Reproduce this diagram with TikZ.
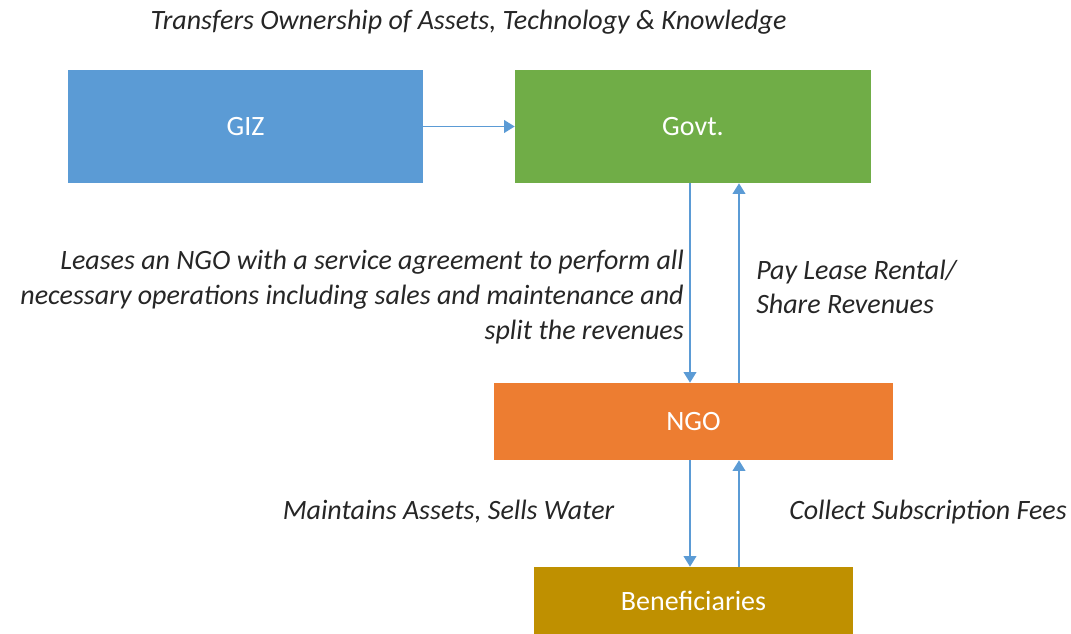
\documentclass[tikz,border=0pt]{standalone}
\usepackage{fontspec}
\setmainfont{Carlito}
\usetikzlibrary{arrows.meta}
\definecolor{cblue}{HTML}{5B9BD5}
\definecolor{cgreen}{HTML}{70AD47}
\definecolor{corange}{HTML}{ED7D31}
\definecolor{cgold}{HTML}{BF9000}
\definecolor{carrow}{HTML}{5B9BD5}
\begin{document}
\begin{tikzpicture}[x=0.75pt,y=-0.75pt,
  box/.style={draw=none,fill=#1,text=white,inner sep=0pt,font=\fontsize{21}{24}\selectfont},
  lbl/.style={font=\fontsize{21}{26}\selectfont\itshape,inner sep=0pt,text=black!85},
  conn/.style={draw=carrow,line width=1.4pt,-{Triangle[length=8pt,width=9.5pt]}}]
\useasboundingbox (0,0) rectangle (1071,634);
\node[box=cblue,minimum width=355*0.75pt,minimum height=113*0.75pt] (giz) at (245.5,126.5) {GIZ};
\node[box=cgreen,minimum width=356*0.75pt,minimum height=113*0.75pt] (govt) at (693,126.5) {Govt.};
\node[box=corange,minimum width=399*0.75pt,minimum height=77*0.75pt] (ngo) at (693.5,421.5) {NGO};
\node[box=cgold,minimum width=319*0.75pt,minimum height=67*0.75pt] (ben) at (693.5,600.5) {Beneficiaries};
\draw[conn] (giz.east) -- (govt.west);
\draw[conn] (govt.south -| 690,0) -- (ngo.north -| 690,0);
\draw[conn] (ngo.north -| 739,0) -- (govt.south -| 739,0);
\draw[conn] (ngo.south -| 690,0) -- (ben.north -| 690,0);
\draw[conn] (ben.north -| 739,0) -- (ngo.south -| 739,0);
\node[lbl] (t1) at (468.5,22) {Transfers Ownership of Assets, Technology \& Knowledge};
\node[lbl,anchor=east,align=right] (t2) at (684,297) {Leases an NGO with a service agreement to perform all\\necessary operations including sales and maintenance and\\split the revenues};
\node[lbl,anchor=west,align=left] (t3) at (756,287) {Pay Lease Rental/\\Share Revenues};
\node[lbl] (t4) at (448.5,512) {Maintains Assets, Sells Water};
\node[lbl] (t5) at (928,512) {Collect Subscription Fees};
\end{tikzpicture}
\end{document}
